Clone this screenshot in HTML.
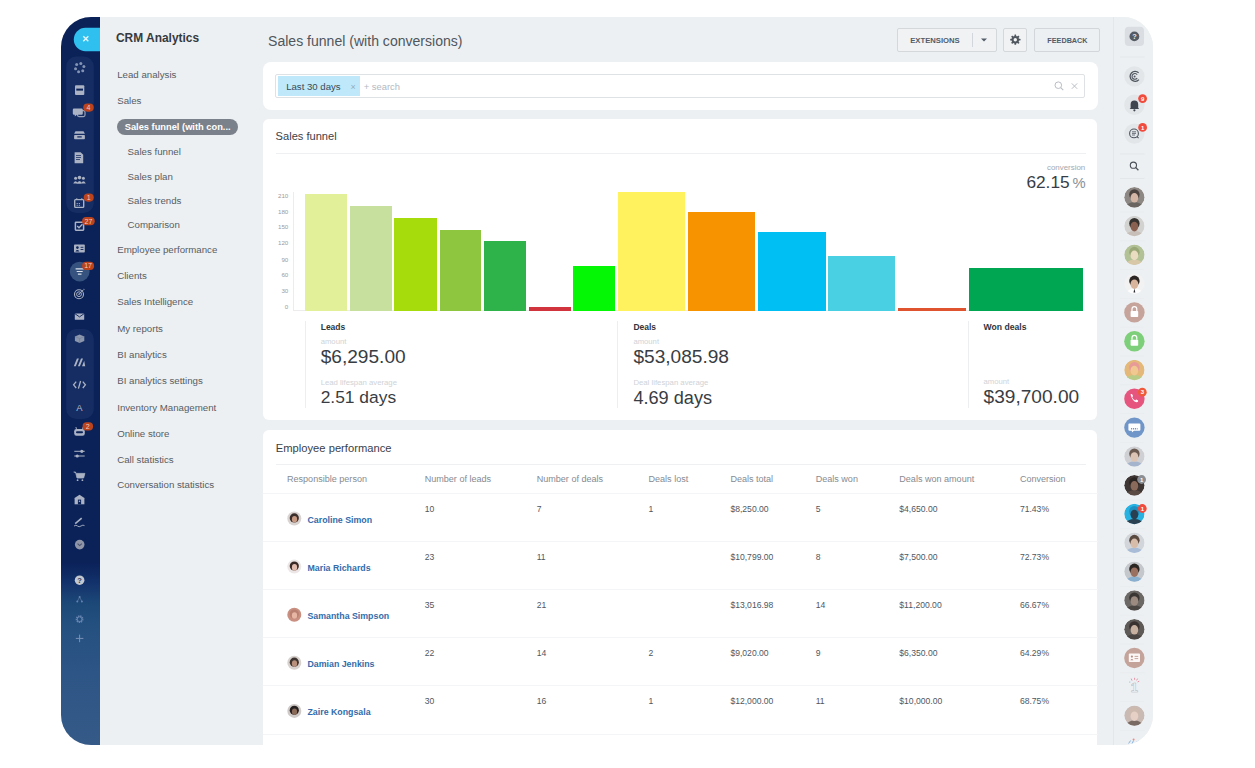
<!DOCTYPE html>
<html><head><meta charset="utf-8">
<style>
*{margin:0;padding:0;box-sizing:border-box}
html,body{width:1255px;height:768px;overflow:hidden;background:#fff;font-family:"Liberation Sans",sans-serif}
.a{position:absolute}
.t{position:absolute;white-space:nowrap;line-height:1}
svg{position:absolute;overflow:visible}
</style></head><body>
<div class="a" style="left:61px;top:17px;width:1092px;height:728px;background:#edf0f2;border-radius:30px;overflow:hidden">
<div class="a" style="left:0;top:0;width:39px;height:728px;background:linear-gradient(180deg,#0b2259 0%,#0b2259 75%,#12306a 77.5%,#1c4878 80.5%,#245080 83.5%,#2d5585 90%,#355a88 100%)"></div>
<div class="a" style="left:1052px;top:0;width:40px;height:728px;background:#edf0f2;border-left:1px solid #e4e7ea"></div>
</div>
<div class="t" style="left:116.30px;top:32.17px;font-size:12.50px;color:#353a40;font-weight:bold;transform:scaleX(0.955);transform-origin:0 0">CRM Analytics</div>
<div class="t" style="left:117.20px;top:69.89px;font-size:9.70px;color:#575d64;font-weight:normal;">Lead analysis</div>
<div class="t" style="left:117.20px;top:96.19px;font-size:9.70px;color:#575d64;font-weight:normal;">Sales</div>
<div class="a" style="left:117.00px;top:119.30px;width:121.30px;height:15.70px;background:#7b818a;border-radius:8px"></div>
<div class="t" style="left:124.70px;top:122.73px;font-size:9.30px;color:#fff;font-weight:bold;">Sales funnel (with con...</div>
<div class="t" style="left:127.60px;top:147.09px;font-size:9.70px;color:#575d64;font-weight:normal;">Sales funnel</div>
<div class="t" style="left:127.60px;top:171.59px;font-size:9.70px;color:#575d64;font-weight:normal;">Sales plan</div>
<div class="t" style="left:127.60px;top:196.19px;font-size:9.70px;color:#575d64;font-weight:normal;">Sales trends</div>
<div class="t" style="left:127.60px;top:220.19px;font-size:9.70px;color:#575d64;font-weight:normal;">Comparison</div>
<div class="t" style="left:117.20px;top:244.99px;font-size:9.70px;color:#575d64;font-weight:normal;">Employee performance</div>
<div class="t" style="left:117.20px;top:271.09px;font-size:9.70px;color:#575d64;font-weight:normal;">Clients</div>
<div class="t" style="left:117.20px;top:297.49px;font-size:9.70px;color:#575d64;font-weight:normal;">Sales Intelligence</div>
<div class="t" style="left:117.20px;top:323.89px;font-size:9.70px;color:#575d64;font-weight:normal;">My reports</div>
<div class="t" style="left:117.20px;top:349.99px;font-size:9.70px;color:#575d64;font-weight:normal;">BI analytics</div>
<div class="t" style="left:117.20px;top:376.39px;font-size:9.70px;color:#575d64;font-weight:normal;">BI analytics settings</div>
<div class="t" style="left:117.20px;top:402.79px;font-size:9.70px;color:#575d64;font-weight:normal;">Inventory Management</div>
<div class="t" style="left:117.20px;top:428.89px;font-size:9.70px;color:#575d64;font-weight:normal;">Online store</div>
<div class="t" style="left:117.20px;top:455.09px;font-size:9.70px;color:#575d64;font-weight:normal;">Call statistics</div>
<div class="t" style="left:117.20px;top:479.59px;font-size:9.70px;color:#575d64;font-weight:normal;">Conversation statistics</div>
<div class="t" style="left:268.10px;top:33.69px;font-size:14.90px;color:#50565d;font-weight:normal;transform:scaleX(0.944);transform-origin:0 0">Sales funnel (with conversions)</div>
<div class="a" style="left:897.40px;top:27.90px;width:99.20px;height:23.70px;border:1px solid #d5d8db;border-radius:2px;background:#f0f2f4"></div>
<div class="a" style="left:972.00px;top:33.00px;width:1.00px;height:13.50px;background:#d3d6da"></div>
<div class="t" style="left:910.20px;top:36.58px;font-size:7.70px;color:#535c69;font-weight:bold;">EXTENSIONS</div>
<svg style="left:981px;top:38px" width="6" height="4"><path d="M0 0.5 L6 0.5 L3 3.5Z" fill="#535c69"/></svg>
<div class="a" style="left:1003.40px;top:27.90px;width:24.00px;height:23.70px;border:1px solid #d5d8db;border-radius:2px;background:#f0f2f4"></div>
<div class="t" style="left:1047.30px;top:36.96px;font-size:7.25px;color:#535c69;font-weight:bold;">FEEDBACK</div>
<div class="a" style="left:1034.30px;top:27.90px;width:66.00px;height:23.70px;border:1px solid #d3d6da;border-radius:2px;background:transparent"></div>
<div class="a" style="left:262.90px;top:61.70px;width:835.20px;height:48.10px;background:#fff;border-radius:8px"></div>
<div class="a" style="left:274.80px;top:74.40px;width:810.40px;height:23.80px;border:1px solid #dfe2e5;border-radius:2px;background:#fff"></div>
<div class="a" style="left:277.80px;top:76.40px;width:81.80px;height:19.40px;background:#bfe9fa"></div>
<div class="t" style="left:286.20px;top:81.67px;font-size:9.60px;color:#3a4a58;font-weight:normal;">Last 30 days</div>
<div class="t" style="left:350.60px;top:82.78px;font-size:9.00px;color:#93aebb;font-weight:normal;">×</div>
<div class="t" style="left:363.70px;top:81.84px;font-size:9.40px;color:#b4b9bf;font-weight:normal;">+ search</div>
<div class="a" style="left:262.90px;top:119.20px;width:834.60px;height:300.40px;background:#fff;border-radius:6px"></div>
<div class="t" style="left:275.60px;top:131.10px;font-size:11.10px;color:#3b4149;font-weight:normal;">Sales funnel</div>
<div class="a" style="left:276.00px;top:152.60px;width:810.00px;height:1.00px;background:#eef0f2"></div>
<div class="t" style="right:966.70px;top:192.85px;font-size:6.20px;color:#979ba1;font-weight:normal;">210</div>
<div class="t" style="right:966.70px;top:208.65px;font-size:6.20px;color:#979ba1;font-weight:normal;">180</div>
<div class="t" style="right:966.70px;top:224.45px;font-size:6.20px;color:#979ba1;font-weight:normal;">150</div>
<div class="t" style="right:966.70px;top:240.45px;font-size:6.20px;color:#979ba1;font-weight:normal;">120</div>
<div class="t" style="right:966.70px;top:256.65px;font-size:6.20px;color:#979ba1;font-weight:normal;">90</div>
<div class="t" style="right:966.70px;top:272.45px;font-size:6.20px;color:#979ba1;font-weight:normal;">60</div>
<div class="t" style="right:966.70px;top:288.25px;font-size:6.20px;color:#979ba1;font-weight:normal;">30</div>
<div class="t" style="right:966.70px;top:304.15px;font-size:6.20px;color:#979ba1;font-weight:normal;">0</div>
<div class="a" style="left:293.20px;top:192.00px;width:0.80px;height:118.60px;background:#ececec"></div>
<div class="a" style="left:293.20px;top:310.20px;width:789.80px;height:0.80px;background:#ececec"></div>
<div class="a" style="left:305.10px;top:193.50px;width:42.20px;height:117.10px;background:#e2f09a"></div>
<div class="a" style="left:350.00px;top:205.80px;width:41.80px;height:104.80px;background:#c7e09e"></div>
<div class="a" style="left:394.40px;top:217.90px;width:42.20px;height:92.70px;background:#a7dc0c"></div>
<div class="a" style="left:439.50px;top:230.00px;width:41.80px;height:80.60px;background:#8ec63f"></div>
<div class="a" style="left:484.20px;top:241.30px;width:41.90px;height:69.30px;background:#2eb34a"></div>
<div class="a" style="left:528.90px;top:307.10px;width:41.80px;height:3.50px;background:#d2343d"></div>
<div class="a" style="left:573.10px;top:265.80px;width:42.40px;height:44.80px;background:#04f704"></div>
<div class="a" style="left:618.20px;top:192.10px;width:67.30px;height:118.50px;background:#fff25e"></div>
<div class="a" style="left:688.10px;top:211.80px;width:67.30px;height:98.80px;background:#f89300"></div>
<div class="a" style="left:758.10px;top:231.80px;width:67.50px;height:78.80px;background:#00bff3"></div>
<div class="a" style="left:828.40px;top:255.80px;width:67.10px;height:54.80px;background:#49d0e2"></div>
<div class="a" style="left:898.30px;top:307.90px;width:67.50px;height:2.70px;background:#e0532f"></div>
<div class="a" style="left:968.50px;top:268.20px;width:114.40px;height:42.40px;background:#00a651"></div>
<div class="t" style="right:169.80px;top:164.41px;font-size:7.90px;color:#a4a9ae;font-weight:normal;">conversion</div>
<div class="t" style="left:1026.40px;top:173.76px;font-size:17.30px;color:#383d43;font-weight:normal;">62.15</div>
<div class="t" style="left:1072.60px;top:176.07px;font-size:14.80px;color:#8a9096;font-weight:normal;">%</div>
<div class="a" style="left:304.50px;top:321.00px;width:1.00px;height:87.00px;background:#eceef0"></div>
<div class="a" style="left:617.40px;top:321.00px;width:1.00px;height:87.00px;background:#eceef0"></div>
<div class="a" style="left:968.30px;top:321.00px;width:1.00px;height:87.00px;background:#eceef0"></div>
<div class="t" style="left:320.70px;top:323.20px;font-size:8.50px;color:#2f353c;font-weight:bold;">Leads</div>
<div class="t" style="left:320.70px;top:338.18px;font-size:7.70px;color:#cfd3d7;font-weight:normal;">amount</div>
<div class="t" style="left:320.70px;top:347.03px;font-size:19.10px;color:#383d43;font-weight:normal;">$6,295.00</div>
<div class="t" style="left:320.70px;top:378.84px;font-size:7.75px;color:#cfd3d7;font-weight:normal;">Lead lifespan average</div>
<div class="t" style="left:320.70px;top:389.47px;font-size:17.40px;color:#383d43;font-weight:normal;">2.51 days</div>
<div class="t" style="left:633.40px;top:323.20px;font-size:8.50px;color:#2f353c;font-weight:bold;">Deals</div>
<div class="t" style="left:633.40px;top:338.18px;font-size:7.70px;color:#cfd3d7;font-weight:normal;">amount</div>
<div class="t" style="left:633.40px;top:347.03px;font-size:19.10px;color:#383d43;font-weight:normal;">$53,085.98</div>
<div class="t" style="left:633.40px;top:378.84px;font-size:7.75px;color:#cfd3d7;font-weight:normal;">Deal lifespan average</div>
<div class="t" style="left:633.40px;top:388.84px;font-size:18.15px;color:#383d43;font-weight:normal;">4.69 days</div>
<div class="t" style="left:983.60px;top:322.92px;font-size:8.60px;color:#2f353c;font-weight:bold;">Won deals</div>
<div class="t" style="left:983.60px;top:377.78px;font-size:7.70px;color:#cfd3d7;font-weight:normal;">amount</div>
<div class="t" style="left:983.60px;top:387.03px;font-size:19.10px;color:#383d43;font-weight:normal;">$39,700.00</div>
<div class="a" style="left:262.90px;top:430.30px;width:834.60px;height:369.70px;background:#fff;border-radius:6px"></div>
<div class="t" style="left:275.80px;top:442.82px;font-size:11.20px;color:#3b4149;font-weight:normal;">Employee performance</div>
<div class="a" style="left:276.00px;top:463.80px;width:810.00px;height:1.00px;background:#eef0f2"></div>
<div class="t" style="left:287.00px;top:474.94px;font-size:9.05px;color:#858b92;font-weight:normal;">Responsible person</div>
<div class="t" style="left:424.70px;top:474.94px;font-size:9.05px;color:#858b92;font-weight:normal;">Number of leads</div>
<div class="t" style="left:536.70px;top:474.94px;font-size:9.05px;color:#858b92;font-weight:normal;">Number of deals</div>
<div class="t" style="left:648.50px;top:474.94px;font-size:9.05px;color:#858b92;font-weight:normal;">Deals lost</div>
<div class="t" style="left:730.40px;top:474.94px;font-size:9.05px;color:#858b92;font-weight:normal;">Deals total</div>
<div class="t" style="left:815.70px;top:474.94px;font-size:9.05px;color:#858b92;font-weight:normal;">Deals won</div>
<div class="t" style="left:899.30px;top:474.94px;font-size:9.05px;color:#858b92;font-weight:normal;">Deals won amount</div>
<div class="t" style="left:1019.90px;top:474.94px;font-size:9.05px;color:#858b92;font-weight:normal;">Conversion</div>
<div class="a" style="left:263.00px;top:492.80px;width:834.50px;height:1.00px;background:#f4f5f6"></div>
<div class="t" style="left:307.50px;top:515.55px;font-size:8.80px;color:#336cab;font-weight:bold;">Caroline Simon</div>
<div class="t" style="left:424.70px;top:504.72px;font-size:8.60px;color:#50575f;font-weight:normal;">10</div>
<div class="t" style="left:536.70px;top:504.72px;font-size:8.60px;color:#50575f;font-weight:normal;">7</div>
<div class="t" style="left:648.50px;top:504.72px;font-size:8.60px;color:#50575f;font-weight:normal;">1</div>
<div class="t" style="left:730.40px;top:504.72px;font-size:8.60px;color:#50575f;font-weight:normal;">$8,250.00</div>
<div class="t" style="left:815.70px;top:504.72px;font-size:8.60px;color:#50575f;font-weight:normal;">5</div>
<div class="t" style="left:899.30px;top:504.72px;font-size:8.60px;color:#50575f;font-weight:normal;">$4,650.00</div>
<div class="t" style="left:1019.90px;top:504.72px;font-size:8.60px;color:#50575f;font-weight:normal;">71.43%</div>
<div class="a" style="left:263.00px;top:540.80px;width:834.50px;height:1.00px;background:#f4f5f6"></div>
<div class="t" style="left:307.50px;top:563.55px;font-size:8.80px;color:#336cab;font-weight:bold;">Maria Richards</div>
<div class="t" style="left:424.70px;top:552.72px;font-size:8.60px;color:#50575f;font-weight:normal;">23</div>
<div class="t" style="left:536.70px;top:552.72px;font-size:8.60px;color:#50575f;font-weight:normal;">11</div>
<div class="t" style="left:648.50px;top:552.72px;font-size:8.60px;color:#50575f;font-weight:normal;"></div>
<div class="t" style="left:730.40px;top:552.72px;font-size:8.60px;color:#50575f;font-weight:normal;">$10,799.00</div>
<div class="t" style="left:815.70px;top:552.72px;font-size:8.60px;color:#50575f;font-weight:normal;">8</div>
<div class="t" style="left:899.30px;top:552.72px;font-size:8.60px;color:#50575f;font-weight:normal;">$7,500.00</div>
<div class="t" style="left:1019.90px;top:552.72px;font-size:8.60px;color:#50575f;font-weight:normal;">72.73%</div>
<div class="a" style="left:263.00px;top:589.00px;width:834.50px;height:1.00px;background:#f4f5f6"></div>
<div class="t" style="left:307.50px;top:611.75px;font-size:8.80px;color:#336cab;font-weight:bold;">Samantha Simpson</div>
<div class="t" style="left:424.70px;top:600.92px;font-size:8.60px;color:#50575f;font-weight:normal;">35</div>
<div class="t" style="left:536.70px;top:600.92px;font-size:8.60px;color:#50575f;font-weight:normal;">21</div>
<div class="t" style="left:648.50px;top:600.92px;font-size:8.60px;color:#50575f;font-weight:normal;"></div>
<div class="t" style="left:730.40px;top:600.92px;font-size:8.60px;color:#50575f;font-weight:normal;">$13,016.98</div>
<div class="t" style="left:815.70px;top:600.92px;font-size:8.60px;color:#50575f;font-weight:normal;">14</div>
<div class="t" style="left:899.30px;top:600.92px;font-size:8.60px;color:#50575f;font-weight:normal;">$11,200.00</div>
<div class="t" style="left:1019.90px;top:600.92px;font-size:8.60px;color:#50575f;font-weight:normal;">66.67%</div>
<div class="a" style="left:263.00px;top:637.10px;width:834.50px;height:1.00px;background:#f4f5f6"></div>
<div class="t" style="left:307.50px;top:659.85px;font-size:8.80px;color:#336cab;font-weight:bold;">Damian Jenkins</div>
<div class="t" style="left:424.70px;top:649.02px;font-size:8.60px;color:#50575f;font-weight:normal;">22</div>
<div class="t" style="left:536.70px;top:649.02px;font-size:8.60px;color:#50575f;font-weight:normal;">14</div>
<div class="t" style="left:648.50px;top:649.02px;font-size:8.60px;color:#50575f;font-weight:normal;">2</div>
<div class="t" style="left:730.40px;top:649.02px;font-size:8.60px;color:#50575f;font-weight:normal;">$9,020.00</div>
<div class="t" style="left:815.70px;top:649.02px;font-size:8.60px;color:#50575f;font-weight:normal;">9</div>
<div class="t" style="left:899.30px;top:649.02px;font-size:8.60px;color:#50575f;font-weight:normal;">$6,350.00</div>
<div class="t" style="left:1019.90px;top:649.02px;font-size:8.60px;color:#50575f;font-weight:normal;">64.29%</div>
<div class="a" style="left:263.00px;top:685.10px;width:834.50px;height:1.00px;background:#f4f5f6"></div>
<div class="t" style="left:307.50px;top:707.85px;font-size:8.80px;color:#336cab;font-weight:bold;">Zaire Kongsala</div>
<div class="t" style="left:424.70px;top:697.02px;font-size:8.60px;color:#50575f;font-weight:normal;">30</div>
<div class="t" style="left:536.70px;top:697.02px;font-size:8.60px;color:#50575f;font-weight:normal;">16</div>
<div class="t" style="left:648.50px;top:697.02px;font-size:8.60px;color:#50575f;font-weight:normal;">1</div>
<div class="t" style="left:730.40px;top:697.02px;font-size:8.60px;color:#50575f;font-weight:normal;">$12,000.00</div>
<div class="t" style="left:815.70px;top:697.02px;font-size:8.60px;color:#50575f;font-weight:normal;">11</div>
<div class="t" style="left:899.30px;top:697.02px;font-size:8.60px;color:#50575f;font-weight:normal;">$10,000.00</div>
<div class="t" style="left:1019.90px;top:697.02px;font-size:8.60px;color:#50575f;font-weight:normal;">68.75%</div>
<div class="a" style="left:263.00px;top:733.60px;width:834.50px;height:1.00px;background:#f4f5f6"></div>
<svg style="left:0;top:0" width="1255" height="768"><rect x="66.2" y="56.5" width="27.6" height="156.5" rx="10" fill="#152d63"/><rect x="66.2" y="329" width="27.6" height="90" rx="10" fill="#152d63"/><path d="M85.5 27.8 H100 V51.2 H85.5 A11.7 11.7 0 0 1 85.5 27.8Z" fill="#2fc0f0"/><path d="M83.3 36.3 L88.3 41.3 M88.3 36.3 L83.3 41.3" stroke="#e8f8ff" stroke-width="1.3"/><circle cx="80.81" cy="63.45" r="1.5" fill="#8393b3"/><circle cx="83.85" cy="66.49" r="1.5" fill="#8393b3"/><circle cx="82.74" cy="70.64" r="1.5" fill="#8393b3"/><circle cx="78.59" cy="71.75" r="1.5" fill="#8393b3"/><circle cx="75.55" cy="68.71" r="1.5" fill="#8393b3"/><circle cx="76.66" cy="64.56" r="1.5" fill="#8393b3"/><rect x="75" y="85.2" width="9.3" height="9.8" rx="1" fill="#aab2c3"/><rect x="76.3" y="88.6" width="6.7" height="2" fill="#0c2359"/><rect x="77.5" y="110.6" width="7.5" height="6" rx="1.5" fill="none" stroke="#98a2b8" stroke-width="1.2"/><path d="M74 108.6 h7.6 a1.2 1.2 0 0 1 1.2 1.2 v3.8 a1.2 1.2 0 0 1 -1.2 1.2 h-4.6 l-2.2 1.8 v-1.8 h-0.8 a1.2 1.2 0 0 1 -1.2 -1.2 v-3.8 a1.2 1.2 0 0 1 1.2 -1.2z" fill="#aab2c3"/><path d="M75.5 131.2 h8 l1.4 2.6 h-10.8z" fill="#aab2c3"/><rect x="74.1" y="135" width="10.8" height="4.3" rx="0.8" fill="#aab2c3"/><rect x="77.3" y="136.3" width="4.4" height="1.2" fill="#0c2359"/><path d="M74.6 152.2 h6 l2.6 2.6 v8.5 h-8.6z" fill="#aab2c3"/><path d="M76 155.5 h5 M76 157.5 h5 M76 159.5 h4" stroke="#3a4d78" stroke-width="1"/><circle cx="79.5" cy="177.6" r="1.8" fill="#aab2c3"/><circle cx="75.6" cy="178.3" r="1.5" fill="#aab2c3"/><circle cx="83.4" cy="178.3" r="1.5" fill="#aab2c3"/><path d="M76.5 183.8 q3 -5.6 6 0z M73.2 183.6 q2.2 -4.6 4.6 -0.6 l-0.9 0.6z M85.8 183.6 q-2.2 -4.6 -4.6 -0.6 l0.9 0.6z" fill="#aab2c3"/><rect x="74.7" y="199.6" width="9" height="7.8" rx="0.8" fill="none" stroke="#aab2c3" stroke-width="1.4"/><path d="M76.6 203.5 h1.2 M78.8 203.5 h1.2 M76.6 205.3 h1.2 M78.8 205.3 h1.2" stroke="#aab2c3" stroke-width="0.9"/><path d="M76.8 198.3 v1.8 M81.8 198.3 v1.8" stroke="#aab2c3" stroke-width="1.1"/><rect x="75.4" y="222.2" width="8.2" height="8" rx="0.6" fill="none" stroke="#aab2c3" stroke-width="1.5"/><path d="M77.2 226 l1.8 1.8 l3.4 -3.6" fill="none" stroke="#aab2c3" stroke-width="1.4"/><rect x="74" y="244.6" width="10.8" height="8" rx="0.8" fill="#aab2c3"/><circle cx="77.4" cy="247.6" r="1.3" fill="#0c2359"/><path d="M75.4 251.4 q2 -2.8 4 0z" fill="#0c2359"/><path d="M80.6 247.3 h2.8 M80.6 249.5 h2.8" stroke="#0c2359" stroke-width="0.9"/><circle cx="79.7" cy="271.6" r="9.9" fill="#36537f"/><path d="M75.6 268.9 h8.2 M76.7 271.5 h6 M77.9 274.1 h3.6" stroke="#d9dfea" stroke-width="1.1"/><circle cx="79" cy="294.2" r="4.5" fill="none" stroke="#aab2c3" stroke-width="1.1"/><circle cx="79" cy="294.2" r="2.4" fill="none" stroke="#aab2c3" stroke-width="1"/><circle cx="79" cy="294.2" r="0.8" fill="#aab2c3"/><path d="M79.3 293.9 l4.3 -4.3" stroke="#aab2c3" stroke-width="1"/><path d="M83.3 288.8 l1.2 0.1 -0.1 1.2z" fill="#aab2c3"/><rect x="74.8" y="313.4" width="9.4" height="6.4" rx="0.5" fill="#aab2c3"/><path d="M74.8 313.6 l4.7 3.3 l4.7 -3.3" fill="none" stroke="#0c2359" stroke-width="0.9"/><path d="M79.6 334.4 l4.7 2.1 v4.6 l-4.7 2 l-4.7 -2 v-4.6z" fill="#8c96ad"/><path d="M74.9 336.5 l4.7 2.1 l4.7 -2.1 M79.6 338.6 v4.5" fill="none" stroke="#6f7b96" stroke-width="0.6"/><path d="M73.8 366.3 l3.1 -7.8 h2 l-3.1 7.8z M77.9 366.3 l3.1 -7.8 h2 l-3.1 7.8z M82 366.3 l2.2 -5.6 l1 5.6z" fill="#aab2c3"/><path d="M76.2 381.6 l-2.6 3.2 l2.6 3.2 M82.8 381.6 l2.6 3.2 l-2.6 3.2 M80.6 381 l-2.2 7.6" fill="none" stroke="#aab2c3" stroke-width="1.3"/><text x="79.5" y="410.7" font-size="9.4" text-anchor="middle" fill="#b4bccb" font-family="Liberation Sans">A</text><rect x="74.2" y="429" width="10.6" height="6.8" rx="2.2" fill="#aab2c3"/><path d="M76.5 429.2 l-0.6 -2.2 M82.5 429.2 l0.6 -2.2" stroke="#aab2c3" stroke-width="0.9"/><rect x="76" y="431.2" width="7" height="2" rx="1" fill="#0c2359"/><path d="M74.3 451.3 h10.4 M74.3 456 h10.4" stroke="#aab2c3" stroke-width="1"/><circle cx="81.8" cy="451.3" r="1.6" fill="#aab2c3"/><circle cx="77.2" cy="456" r="1.6" fill="#aab2c3"/><path d="M73.6 472 h1.9 l1.5 6 h6.6 l1.3 -4.6 h-8.7" fill="#aab2c3" stroke="#aab2c3" stroke-width="0.8"/><circle cx="77.6" cy="480.2" r="0.9" fill="#aab2c3"/><circle cx="82.4" cy="480.2" r="0.9" fill="#aab2c3"/><path d="M74.2 498.2 l5.3 -3.4 l5.3 3.4z" fill="#aab2c3"/><rect x="74.6" y="498" width="9.8" height="6.3" fill="#aab2c3"/><rect x="77.9" y="499.6" width="3.2" height="4.7" fill="#0c2359"/><circle cx="79.5" cy="501.3" r="0.8" fill="#aab2c3"/><path d="M75.2 523.7 l6.5 -5.6" stroke="#aab2c3" stroke-width="1.6"/><path d="M74 526 q2 -1.5 3.5 0 t3.5 0 t3.5 -0.4" fill="none" stroke="#aab2c3" stroke-width="0.9"/><circle cx="79.7" cy="544.6" r="4.8" fill="#8f95a6"/><path d="M77.6 543.6 l2.1 2 l2.1 -2" fill="none" stroke="#4a5270" stroke-width="1.1"/><circle cx="79.6" cy="580.2" r="4.8" fill="#c3c7cf"/><text x="79.6" y="583.2" font-size="7.5" font-weight="bold" text-anchor="middle" fill="#2c3b5c" font-family="Liberation Sans">?</text><circle cx="79.6" cy="597" r="1" fill="#6483ad"/><circle cx="77.3" cy="601.6" r="1" fill="#6483ad"/><circle cx="81.9" cy="601.6" r="1" fill="#6483ad"/><path d="M79.6 597 l-2.3 4.6 M79.6 597 l2.3 4.6" stroke="#6483ad" stroke-width="0.6"/><circle cx="79.6" cy="619.2" r="3" fill="none" stroke="#6986b0" stroke-width="1.8" stroke-dasharray="1.3 0.75"/><circle cx="79.6" cy="619.2" r="2.4" fill="none" stroke="#6986b0" stroke-width="0.9"/><path d="M79.6 634.6 v7.6 M75.8 638.4 h7.6" stroke="#7891b6" stroke-width="1"/><rect x="83.25" y="103.50" width="10.50" height="8.2" rx="4.1" fill="#bd431d"/><text x="88.50" y="110.10" font-size="7" text-anchor="middle" fill="#efcfc3" font-family="Liberation Sans">4</text><rect x="83.70" y="193.50" width="10.00" height="8.2" rx="4.1" fill="#bd431d"/><text x="88.70" y="200.10" font-size="7" text-anchor="middle" fill="#efcfc3" font-family="Liberation Sans">1</text><rect x="82.10" y="217.10" width="12.60" height="8.2" rx="4.1" fill="#bd431d"/><text x="88.40" y="223.70" font-size="7" text-anchor="middle" fill="#efcfc3" font-family="Liberation Sans">27</text><rect x="82.10" y="261.80" width="12.00" height="8.2" rx="4.1" fill="#bd431d"/><text x="88.10" y="268.40" font-size="7" text-anchor="middle" fill="#efcfc3" font-family="Liberation Sans">17</text><rect x="82.55" y="422.30" width="10.50" height="8.2" rx="4.1" fill="#bd431d"/><text x="87.80" y="428.90" font-size="7" text-anchor="middle" fill="#efcfc3" font-family="Liberation Sans">2</text></svg>
<svg style="left:0;top:0;clip-path:inset(17px 102px 23px 61px round 30px)" width="1255" height="768"><rect x="1124.8" y="26.8" width="19.2" height="19.2" rx="4" fill="#dadde1"/><circle cx="1134.4" cy="36.4" r="4.9" fill="#545b64"/><text x="1134.4" y="39.2" font-size="7.4" font-weight="bold" text-anchor="middle" fill="#e8eaec" font-family="Liberation Sans">?</text><rect x="1120" y="56.6" width="24.5" height="0.8" fill="#e1e5e8"/><rect x="1120" y="153.5" width="24.5" height="0.8" fill="#e1e5e8"/><rect x="1120" y="178.0" width="24.5" height="0.8" fill="#e1e5e8"/><circle cx="1134.4" cy="76.4" r="10.2" fill="#e2e6e9"/><circle cx="1134.4" cy="104.7" r="10.2" fill="#e2e6e9"/><circle cx="1134.4" cy="133.6" r="10.2" fill="#e2e6e9"/><path d="M1138.6 72.8 A5 5 0 1 0 1138.9 79.6" fill="none" stroke="#4f565f" stroke-width="1.3"/><path d="M1137.2 74.6 A2.9 2.9 0 1 0 1137.2 78.2" fill="none" stroke="#4f565f" stroke-width="1.1"/><circle cx="1134.6" cy="76.4" r="1" fill="#4f565f"/><path d="M1130.6 108 v-3.6 a3.8 3.8 0 0 1 7.6 0 v3.6 l1 1 h-9.6z" fill="#3f464f"/><circle cx="1134.4" cy="110.3" r="1.1" fill="#3f464f"/><circle cx="1134" cy="133.4" r="4.4" fill="none" stroke="#4f565f" stroke-width="1.1"/><path d="M1132 131.8 h4 M1132 133.4 h4 M1132 135 h3" stroke="#4f565f" stroke-width="0.8"/><path d="M1136.8 136.4 l1.8 1.8" stroke="#4f565f" stroke-width="1.1"/><circle cx="1142.6" cy="98.6" r="4.4" fill="#f04b3c"/><text x="1142.6" y="100.7" font-size="6" font-weight="bold" text-anchor="middle" fill="#fff" font-family="Liberation Sans">9</text><circle cx="1142.6" cy="127.4" r="4.4" fill="#f04b3c"/><text x="1142.6" y="129.5" font-size="6" font-weight="bold" text-anchor="middle" fill="#fff" font-family="Liberation Sans">1</text><circle cx="1133.4" cy="165.2" r="3.1" fill="none" stroke="#4a5058" stroke-width="1.1"/><path d="M1135.6 167.4 l2.8 2.8" stroke="#4a5058" stroke-width="1.3"/><defs><clipPath id="av0"><circle cx="1134.4" cy="197.2" r="10.2"/></clipPath><clipPath id="av1"><circle cx="1134.4" cy="226.0" r="10.2"/></clipPath><clipPath id="av2"><circle cx="1134.4" cy="254.8" r="10.2"/></clipPath><clipPath id="av3"><circle cx="1134.4" cy="283.6" r="10.2"/></clipPath><clipPath id="av6"><circle cx="1134.4" cy="370.0" r="10.2"/></clipPath><clipPath id="av9"><circle cx="1134.4" cy="456.4" r="10.2"/></clipPath><clipPath id="av10"><circle cx="1134.4" cy="485.2" r="10.2"/></clipPath><clipPath id="av11"><circle cx="1134.4" cy="514.0" r="10.2"/></clipPath><clipPath id="av12"><circle cx="1134.4" cy="542.8" r="10.2"/></clipPath><clipPath id="av13"><circle cx="1134.4" cy="571.6" r="10.2"/></clipPath><clipPath id="av14"><circle cx="1134.4" cy="600.4" r="10.2"/></clipPath><clipPath id="av15"><circle cx="1134.4" cy="629.2" r="10.2"/></clipPath><clipPath id="av18"><circle cx="1134.4" cy="715.6" r="10.2"/></clipPath></defs><g clip-path="url(#av0)"><circle cx="1134.4" cy="197.2" r="10.2" fill="#8e8884"/><ellipse cx="1134.4" cy="206.7" rx="8" ry="4.5" fill="#6a6560"/><ellipse cx="1134.4" cy="194.6" rx="5.2" ry="5.4" fill="#4a4340"/><ellipse cx="1134.4" cy="197.8" rx="3.9" ry="4.8" fill="#d3b5a5"/></g><rect x="1120" y="211.6" width="24.5" height="0.7" fill="#e8ebee"/><g clip-path="url(#av1)"><circle cx="1134.4" cy="226.0" r="10.2" fill="#d2d2d0"/><ellipse cx="1134.4" cy="235.5" rx="8" ry="4.5" fill="#c8c0b8"/><ellipse cx="1134.4" cy="223.4" rx="5.2" ry="5.4" fill="#353230"/><ellipse cx="1134.4" cy="226.6" rx="3.9" ry="4.8" fill="#8a6150"/></g><rect x="1120" y="240.4" width="24.5" height="0.7" fill="#e8ebee"/><g clip-path="url(#av2)"><circle cx="1134.4" cy="254.8" r="10.2" fill="#b2c296"/><ellipse cx="1134.4" cy="264.3" rx="8" ry="4.5" fill="#d8c8a8"/><ellipse cx="1134.4" cy="252.2" rx="5.2" ry="5.4" fill="#9aa878"/><ellipse cx="1134.4" cy="255.4" rx="3.9" ry="4.8" fill="#eadcc0"/></g><rect x="1120" y="269.2" width="24.5" height="0.7" fill="#e8ebee"/><g clip-path="url(#av3)"><circle cx="1134.4" cy="283.6" r="10.2" fill="#f2f2f2"/><ellipse cx="1134.4" cy="293.1" rx="8" ry="4.5" fill="#fdfdfd"/><ellipse cx="1134.4" cy="281.0" rx="5.2" ry="5.4" fill="#2b2624"/><ellipse cx="1134.4" cy="284.2" rx="3.9" ry="4.8" fill="#d9b49c"/></g><rect x="1120" y="298.0" width="24.5" height="0.7" fill="#e8ebee"/><circle cx="1134.4" cy="312.4" r="10.2" fill="#c6a49c"/><rect x="1120" y="326.8" width="24.5" height="0.7" fill="#e8ebee"/><circle cx="1134.4" cy="341.2" r="10.2" fill="#7ecf79"/><rect x="1120" y="355.6" width="24.5" height="0.7" fill="#e8ebee"/><g clip-path="url(#av6)"><circle cx="1134.4" cy="370.0" r="10.2" fill="#e4b878"/><ellipse cx="1134.4" cy="379.5" rx="8" ry="4.5" fill="#b8cc88"/><ellipse cx="1134.4" cy="367.4" rx="5.2" ry="5.4" fill="#e89a98"/><ellipse cx="1134.4" cy="370.6" rx="3.9" ry="4.8" fill="#f0c890"/></g><rect x="1120" y="384.4" width="24.5" height="0.7" fill="#e8ebee"/><circle cx="1134.4" cy="398.8" r="10.2" fill="#e6557e"/><rect x="1120" y="413.2" width="24.5" height="0.7" fill="#e8ebee"/><circle cx="1134.4" cy="427.6" r="10.2" fill="#7095c9"/><rect x="1120" y="442.0" width="24.5" height="0.7" fill="#e8ebee"/><g clip-path="url(#av9)"><circle cx="1134.4" cy="456.4" r="10.2" fill="#cfd0d4"/><ellipse cx="1134.4" cy="465.9" rx="8" ry="4.5" fill="#a4b4cc"/><ellipse cx="1134.4" cy="453.8" rx="5.2" ry="5.4" fill="#6a5a50"/><ellipse cx="1134.4" cy="457.0" rx="3.9" ry="4.8" fill="#dcc4b4"/></g><rect x="1120" y="470.8" width="24.5" height="0.7" fill="#e8ebee"/><g clip-path="url(#av10)"><circle cx="1134.4" cy="485.2" r="10.2" fill="#3e3634"/><ellipse cx="1134.4" cy="494.7" rx="8" ry="4.5" fill="#5a4a44"/><ellipse cx="1134.4" cy="482.6" rx="5.2" ry="5.4" fill="#2a2422"/><ellipse cx="1134.4" cy="485.8" rx="3.9" ry="4.8" fill="#8a6a5a"/></g><rect x="1120" y="499.6" width="24.5" height="0.7" fill="#e8ebee"/><g clip-path="url(#av11)"><circle cx="1134.4" cy="514.0" r="10.2" fill="#27b2e2"/><ellipse cx="1134.4" cy="523.5" rx="8" ry="4.5" fill="#2a4050"/><ellipse cx="1134.4" cy="511.4" rx="5.2" ry="5.4" fill="#1d8fc0"/><ellipse cx="1134.4" cy="514.6" rx="3.9" ry="4.8" fill="#2a4050"/></g><rect x="1120" y="528.4" width="24.5" height="0.7" fill="#e8ebee"/><g clip-path="url(#av12)"><circle cx="1134.4" cy="542.8" r="10.2" fill="#d2d6da"/><ellipse cx="1134.4" cy="552.3" rx="8" ry="4.5" fill="#a8bcd8"/><ellipse cx="1134.4" cy="540.2" rx="5.2" ry="5.4" fill="#5a4a40"/><ellipse cx="1134.4" cy="543.4" rx="3.9" ry="4.8" fill="#d8bcaa"/></g><rect x="1120" y="557.2" width="24.5" height="0.7" fill="#e8ebee"/><g clip-path="url(#av13)"><circle cx="1134.4" cy="571.6" r="10.2" fill="#c4c8cc"/><ellipse cx="1134.4" cy="581.1" rx="8" ry="4.5" fill="#8ab0d0"/><ellipse cx="1134.4" cy="569.0" rx="5.2" ry="5.4" fill="#2a2624"/><ellipse cx="1134.4" cy="572.2" rx="3.9" ry="4.8" fill="#9a7060"/></g><rect x="1120" y="586.0" width="24.5" height="0.7" fill="#e8ebee"/><g clip-path="url(#av14)"><circle cx="1134.4" cy="600.4" r="10.2" fill="#6c6866"/><ellipse cx="1134.4" cy="609.9" rx="8" ry="4.5" fill="#4a4644"/><ellipse cx="1134.4" cy="597.8" rx="5.2" ry="5.4" fill="#3a3634"/><ellipse cx="1134.4" cy="601.0" rx="3.9" ry="4.8" fill="#9a8a80"/></g><rect x="1120" y="614.8" width="24.5" height="0.7" fill="#e8ebee"/><g clip-path="url(#av15)"><circle cx="1134.4" cy="629.2" r="10.2" fill="#5e5a58"/><ellipse cx="1134.4" cy="638.7" rx="8" ry="4.5" fill="#4a4442"/><ellipse cx="1134.4" cy="626.6" rx="5.2" ry="5.4" fill="#3a3230"/><ellipse cx="1134.4" cy="629.8" rx="3.9" ry="4.8" fill="#c8b0a0"/></g><rect x="1120" y="643.6" width="24.5" height="0.7" fill="#e8ebee"/><circle cx="1134.4" cy="658.0" r="10.2" fill="#c4a39b"/><rect x="1120" y="672.4" width="24.5" height="0.7" fill="#e8ebee"/><rect x="1120" y="701.2" width="24.5" height="0.7" fill="#e8ebee"/><g clip-path="url(#av18)"><circle cx="1134.4" cy="715.6" r="10.2" fill="#c9bab3"/><ellipse cx="1134.4" cy="725.1" rx="8" ry="4.5" fill="#7a6a64"/><ellipse cx="1134.4" cy="713.0" rx="5.2" ry="5.4" fill="#cdb9ae"/><ellipse cx="1134.4" cy="716.2" rx="3.9" ry="4.8" fill="#e6cfc4"/></g><rect x="1120" y="730.0" width="24.5" height="0.7" fill="#e8ebee"/><path d="M1134.4 288.6 l-0.9 4 h1.8z" fill="#2a2a2e"/><rect x="1130.6" y="311.0" width="7.6" height="6" rx="0.8" fill="#fff"/><path d="M1132 311.0 v-2 a2.4 2.4 0 0 1 4.8 0 v2" fill="none" stroke="#fff" stroke-width="1.2"/><rect x="1130.6" y="339.8" width="7.6" height="6" rx="0.8" fill="#fff"/><path d="M1132 339.8 v-2 a2.4 2.4 0 0 1 4.8 0 v2" fill="none" stroke="#fff" stroke-width="1.2"/><path d="M1130.5 394.5 q0.5 -0.8 1.5 -0.4 l1 1.8 q0 0.8 -1 1.2 q1 2.4 3.2 3.3 q0.6 -0.9 1.2 -0.9 l1.7 1.1 q0.3 1 -0.5 1.5 q-4.5 1 -7.1 -7.6z" fill="#fff"/><circle cx="1142.3" cy="392.2" r="4.4" fill="#f05a3a"/><text x="1142.3" y="394.3" font-size="6" font-weight="bold" text-anchor="middle" fill="#fff" font-family="Liberation Sans">3</text><path d="M1129.4 423.6 h10 a1 1 0 0 1 1 1 v5.2 a1 1 0 0 1 -1 1 h-5.5 l-2 1.8 v-1.8 h-2.5 a1 1 0 0 1 -1 -1 v-5.2 a1 1 0 0 1 1 -1z" fill="#fff"/><path d="M1131 428.8 h6.6" stroke="#7095c9" stroke-width="1.4" stroke-dasharray="1.2 0.8"/><circle cx="1141.6" cy="479.5" r="4.4" fill="#8b8f95"/><text x="1141.6" y="481.6" font-size="6" font-weight="bold" text-anchor="middle" fill="#fff" font-family="Liberation Sans">1</text><circle cx="1142.3" cy="508.5" r="4.4" fill="#f04b3c"/><text x="1142.3" y="510.6" font-size="6" font-weight="bold" text-anchor="middle" fill="#fff" font-family="Liberation Sans">1</text><rect x="1128.8" y="653.6" width="11.2" height="8.4" rx="0.8" fill="#fbf7f6"/><circle cx="1131.9" cy="656.6" r="1.1" fill="#b88e84"/><path d="M1130.4 660.2 q1.5 -2.2 3 0z" fill="#b88e84"/><path d="M1134.6 656.4 h3.6 M1134.6 658.6 h3.6" stroke="#b88e84" stroke-width="0.8"/><text x="1134.4" y="692.4" font-size="13" font-weight="bold" text-anchor="middle" fill="#fbfbfc" stroke="#aeb4bd" stroke-width="0.5" font-family="Liberation Sans">1</text><path d="M1131.2 678.6 l0.8 2 M1134.6 677.8 v2 M1137.6 678.6 l-1 1.8 M1139.2 681.2 l-1.6 0.8" stroke="#e27a90" stroke-width="0.8"/><circle cx="1129.8" cy="682" r="0.6" fill="#7ab0e0"/><path d="M1128.6 743.5 l2 -3 M1132 744 l1.5 -3.5 M1136 742.5 l2.5 -1.5" stroke="#86b4e4" stroke-width="1"/><circle cx="1133.6" cy="739.6" r="1" fill="#e88a8a"/></svg>
<svg style="left:0;top:0" width="1255" height="768"><circle cx="1058.3" cy="85.2" r="3.3" fill="none" stroke="#b9bec4" stroke-width="1"/><path d="M1060.7 87.6 l2.6 2.6" stroke="#b9bec4" stroke-width="1.1"/><path d="M1071.8 83.4 l5.4 5.4 M1077.2 83.4 l-5.4 5.4" stroke="#b9bec4" stroke-width="1"/><rect x="1014.45" y="34.6" width="1.7" height="3" rx="0.3" fill="#50575f" transform="rotate(0 1015.3 39.7)"/><rect x="1014.45" y="34.6" width="1.7" height="3" rx="0.3" fill="#50575f" transform="rotate(45 1015.3 39.7)"/><rect x="1014.45" y="34.6" width="1.7" height="3" rx="0.3" fill="#50575f" transform="rotate(90 1015.3 39.7)"/><rect x="1014.45" y="34.6" width="1.7" height="3" rx="0.3" fill="#50575f" transform="rotate(135 1015.3 39.7)"/><rect x="1014.45" y="34.6" width="1.7" height="3" rx="0.3" fill="#50575f" transform="rotate(180 1015.3 39.7)"/><rect x="1014.45" y="34.6" width="1.7" height="3" rx="0.3" fill="#50575f" transform="rotate(225 1015.3 39.7)"/><rect x="1014.45" y="34.6" width="1.7" height="3" rx="0.3" fill="#50575f" transform="rotate(270 1015.3 39.7)"/><rect x="1014.45" y="34.6" width="1.7" height="3" rx="0.3" fill="#50575f" transform="rotate(315 1015.3 39.7)"/><circle cx="1015.3" cy="39.7" r="3.7" fill="#50575f"/><circle cx="1015.3" cy="39.7" r="1.7" fill="#f4f6f7"/></svg>
<svg style="left:0;top:0" width="1255" height="768"><circle cx="294.3" cy="518.5" r="7" fill="#d9d4d2"/><circle cx="294.3" cy="517.9" r="4.6" fill="#3b2f2c"/><ellipse cx="294.5" cy="519.3" rx="2.6" ry="3.3" fill="#c79a84"/><circle cx="294.3" cy="566.6" r="7" fill="#ece6e6"/><circle cx="294.3" cy="566.0" r="4.6" fill="#3a2a26"/><ellipse cx="294.5" cy="567.4" rx="2.6" ry="3.3" fill="#e2bcae"/><circle cx="294.3" cy="614.7" r="7" fill="#c98f80"/><circle cx="294.3" cy="614.1" r="4.6" fill="#b88070"/><ellipse cx="294.5" cy="615.5" rx="2.6" ry="3.3" fill="#e8b6a4"/><circle cx="294.3" cy="662.8" r="7" fill="#d8d2cf"/><circle cx="294.3" cy="662.2" r="4.6" fill="#3e3430"/><ellipse cx="294.5" cy="663.6" rx="2.6" ry="3.3" fill="#b8907c"/><circle cx="294.3" cy="710.9" r="7" fill="#cfcac8"/><circle cx="294.3" cy="710.3" r="4.6" fill="#262120"/><ellipse cx="294.5" cy="711.7" rx="2.6" ry="3.3" fill="#8a6a58"/></svg>
</body></html>
